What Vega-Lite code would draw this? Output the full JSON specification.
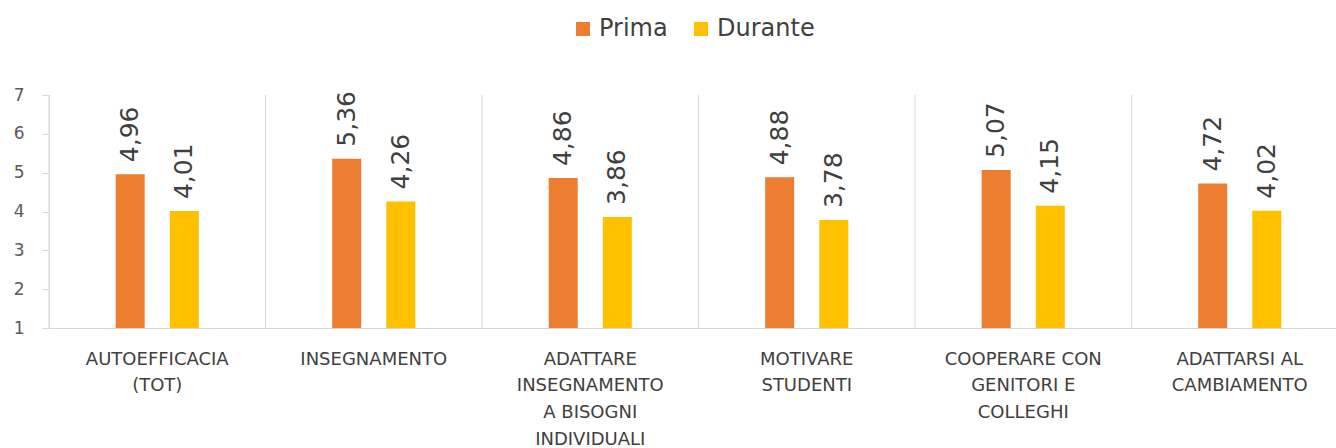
{
  "$schema": "https://vega.github.io/schema/vega-lite/v6.json",
  "width": 1288,
  "height": 233,
  "autosize": {"type": "none"},
  "padding": {"left": 49, "top": 95, "right": 0, "bottom": 120},
  "config": {
    "locale": {"number": {"decimal": ",", "thousands": ".", "grouping": [3], "currency": ["", " €"]}},
    "view": {"stroke": null},
    "font": "DejaVu Sans",
    "axisX": {
      "title": null, "labelAngle": 0, "labelAlign": "center", "bandPosition": 0.5, "ticks": false, "grid": false, "domainColor": "#D9D9D9",
      "labelFontSize": 18, "labelColor": "#404040", "labelPadding": 22, "labelLineHeight": 26.8,
      "labelBaseline": "top", "labelLimit": 0, "labelOverlap": false
    },
    "axisY": {
      "title": null, "grid": false, "labelOverlap": false, "tickCount": 7,
      "domainColor": "#D9D9D9", "tickColor": "#D9D9D9", "tickSize": 7,
      "labelFontSize": 17, "labelColor": "#595959", "labelPadding": 18
    }
  },
  "data": {
    "values": [
      {"categoria": "AUTOEFFICACIA (TOT)", "serie": "Prima", "valore": 4.96},
      {"categoria": "AUTOEFFICACIA (TOT)", "serie": "Durante", "valore": 4.01},
      {"categoria": "INSEGNAMENTO", "serie": "Prima", "valore": 5.36},
      {"categoria": "INSEGNAMENTO", "serie": "Durante", "valore": 4.26},
      {"categoria": "ADATTARE INSEGNAMENTO A BISOGNI INDIVIDUALI", "serie": "Prima", "valore": 4.86},
      {"categoria": "ADATTARE INSEGNAMENTO A BISOGNI INDIVIDUALI", "serie": "Durante", "valore": 3.86},
      {"categoria": "MOTIVARE STUDENTI", "serie": "Prima", "valore": 4.88},
      {"categoria": "MOTIVARE STUDENTI", "serie": "Durante", "valore": 3.78},
      {"categoria": "COOPERARE CON GENITORI E COLLEGHI", "serie": "Prima", "valore": 5.07},
      {"categoria": "COOPERARE CON GENITORI E COLLEGHI", "serie": "Durante", "valore": 4.15},
      {"categoria": "ADATTARSI AL CAMBIAMENTO", "serie": "Prima", "valore": 4.72},
      {"categoria": "ADATTARSI AL CAMBIAMENTO", "serie": "Durante", "valore": 4.02}
    ]
  },
  "layer": [
    {
      "mark": {"type": "bar", "width": 29},
      "encoding": {
        "x": {
          "field": "categoria", "type": "nominal", "sort": null,
          "scale": {"paddingInner": 0, "paddingOuter": 0, "range": [0, 1299]},
          "axis": {
            "labelExpr": "datum.value == 'AUTOEFFICACIA (TOT)' ? ['AUTOEFFICACIA', '(TOT)'] : datum.value == 'ADATTARE INSEGNAMENTO A BISOGNI INDIVIDUALI' ? ['ADATTARE', 'INSEGNAMENTO', 'A BISOGNI', 'INDIVIDUALI'] : datum.value == 'MOTIVARE STUDENTI' ? ['MOTIVARE', 'STUDENTI'] : datum.value == 'COOPERARE CON GENITORI E COLLEGHI' ? ['COOPERARE CON', 'GENITORI E', 'COLLEGHI'] : datum.value == 'ADATTARSI AL CAMBIAMENTO' ? ['ADATTARSI AL', 'CAMBIAMENTO'] : datum.value"
          }
        },
        "xOffset": {"field": "serie", "type": "nominal", "sort": ["Prima", "Durante"], "scale": {"paddingInner": 0, "paddingOuter": 1}},
        "y": {
          "field": "valore", "type": "quantitative",
          "scale": {"domain": [1, 7], "zero": false, "nice": false},
          "axis": {"values": [1, 2, 3, 4, 5, 6, 7]}
        },
        "y2": {"datum": 1},
        "color": {
          "field": "serie", "type": "nominal",
          "scale": {"domain": ["Prima", "Durante"], "range": ["#ED7D31", "#FFC000"]},
          "legend": {
            "orient": "none", "legendX": 522, "legendY": -78, "direction": "horizontal",
            "title": null, "symbolType": "square", "symbolSize": 196, "symbolStrokeWidth": 0,
            "labelFontSize": 24, "labelColor": "#404040", "labelOffset": 4, "columnPadding": 21
          }
        }
      }
    },
    {
      "mark": {"type": "text", "angle": 270, "align": "left", "baseline": "middle", "dx": 12, "fontSize": 25, "color": "#404040"},
      "encoding": {
        "x": {"field": "categoria", "type": "nominal", "sort": null},
        "xOffset": {"field": "serie", "type": "nominal", "sort": ["Prima", "Durante"]},
        "y": {"field": "valore", "type": "quantitative"},
        "text": {"field": "valore", "type": "quantitative", "format": ".2f"}
      }
    },
    {
      "transform": [{"filter": "datum.serie == 'Prima'"}],
      "mark": {"type": "rule", "color": "#D9D9D9", "strokeWidth": 1},
      "encoding": {
        "x": {"field": "categoria", "type": "nominal", "sort": null, "bandPosition": 0},
        "y": {"datum": 1, "type": "quantitative"},
        "y2": {"datum": 7}
      }
    }
  ]
}
